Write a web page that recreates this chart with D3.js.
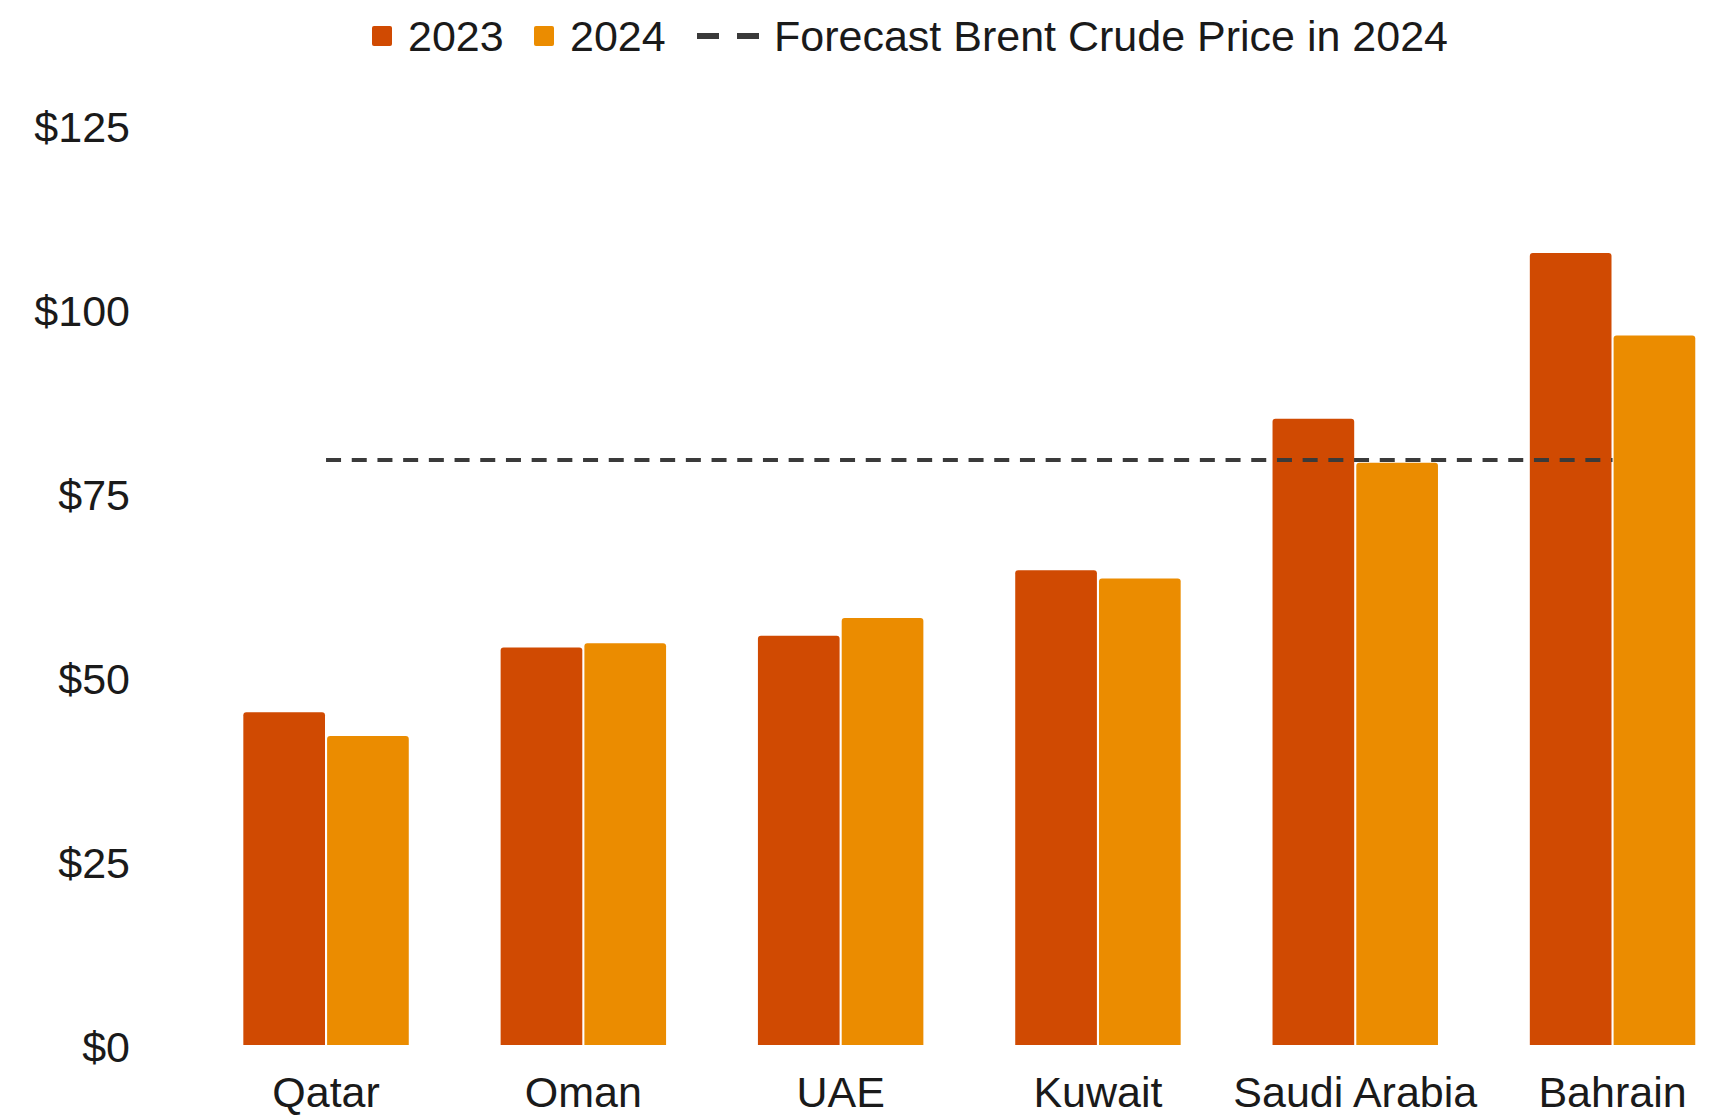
<!DOCTYPE html>
<html>
<head>
<meta charset="utf-8">
<script src="https://cdn.jsdelivr.net/npm/d3@7"></script>
<style>
  body { margin: 0; background: #fff; }
  svg text { font-family: "Liberation Sans", Arial, sans-serif; fill: #1a1a1a; }
</style>
</head>
<body>
<div class="chart"></div>
<script>
// data
var countries = ["Qatar", "Oman", "UAE", "Kuwait", "Saudi Arabia", "Bahrain"];
var years = ["2023", "2024"];
var values2023 = [45.2, 54.0, 55.6, 64.5, 85.1, 107.6];
var values2024 = [42.0, 54.6, 58.0, 63.4, 79.1, 96.4];
var forecastPrice = 79.5;
var yTicks = [0, 25, 50, 75, 100, 125];

var width = 1718, height = 1116;
var colors = { "2023": "#D04A02", "2024": "#EB8C00" };

var svg = d3.select(".chart")
  .append("svg")
  .attr("width", width)
  .attr("height", height)
  .attr("viewBox", [0, 0, width, height]);

var data = countries.map((c, i) => ({
  country: c,
  values: [
    { year: "2023", value: values2023[i] },
    { year: "2024", value: values2024[i] }
  ]
}));

var x = d3.scaleBand()
  .domain(countries)
  .range([197.4, 1741.2])
  .paddingInner(0.357)
  .paddingOuter(0.1785);

var x1 = d3.scaleBand()
  .domain(years)
  .range([0, x.bandwidth()])
  .paddingInner(0.025);

var y = d3.scaleLinear()
  .domain([0, 125])
  .range([1045, 125]);

// y axis, no line, no ticks
var yAxis = g => g
  .attr("transform", "translate(130,0)")
  .call(d3.axisLeft(y).tickValues(yTicks).tickSize(0).tickPadding(0).tickFormat(d => "$" + d))
  .call(g => g.select(".domain").remove())
  .call(g => g.selectAll("text")
    .attr("dy", "0.38em")
    .attr("font-size", 43)
    .attr("font-family", null)
    .attr("fill", "#1a1a1a"));

svg.append("g").call(yAxis);

// x axis labels
var xAxis = g => g
  .attr("transform", "translate(0,1045)")
  .call(d3.axisBottom(x).tickSize(0).tickPadding(31))
  .call(g => g.select(".domain").remove())
  .call(g => g.selectAll("text")
    .attr("font-size", 43)
    .attr("font-family", null)
    .attr("fill", "#1a1a1a"));

svg.append("g").call(xAxis);

// bars with slightly rounded tops
function barPath(x0, y0, w, h, r) {
  return `M${x0},${y0 + h}V${y0 + r}Q${x0},${y0} ${x0 + r},${y0}H${x0 + w - r}Q${x0 + w},${y0} ${x0 + w},${y0 + r}V${y0 + h}Z`;
}

svg.append("g")
  .selectAll("g")
  .data(data)
  .join("g")
  .attr("transform", d => `translate(${x(d.country)},0)`)
  .selectAll("path")
  .data(d => d.values)
  .join("path")
  .attr("fill", d => colors[d.year])
  .attr("d", d => barPath(x1(d.year), y(d.value), x1.bandwidth(), y(0) - y(d.value), 3));

// forecast line from first group center to last group center
svg.append("line")
  .attr("x1", x(countries[0]) + x.bandwidth() / 2)
  .attr("x2", x(countries[countries.length - 1]) + x.bandwidth() / 2)
  .attr("y1", y(forecastPrice))
  .attr("y2", y(forecastPrice))
  .attr("stroke", "#3a3a3a")
  .attr("stroke-width", 4)
  .attr("stroke-dasharray", "15 10.7");

// legend
var legend = svg.append("g").attr("transform", "translate(0,36)");

legend.append("rect").attr("x", 372).attr("y", -10).attr("width", 20).attr("height", 20).attr("rx", 2).attr("fill", colors["2023"]);
legend.append("text").attr("x", 408).attr("y", 0).attr("dy", "0.35em").attr("font-size", 43).text("2023");

legend.append("rect").attr("x", 534).attr("y", -10).attr("width", 20).attr("height", 20).attr("rx", 2).attr("fill", colors["2024"]);
legend.append("text").attr("x", 570).attr("y", 0).attr("dy", "0.35em").attr("font-size", 43).text("2024");

legend.append("line")
  .attr("x1", 697).attr("x2", 759).attr("y1", 0).attr("y2", 0)
  .attr("stroke", "#3a3a3a").attr("stroke-width", 6)
  .attr("stroke-dasharray", "22 18");
legend.append("text").attr("x", 774).attr("y", 0).attr("dy", "0.35em").attr("font-size", 43).text("Forecast Brent Crude Price in 2024");
</script>
</body>
</html>
